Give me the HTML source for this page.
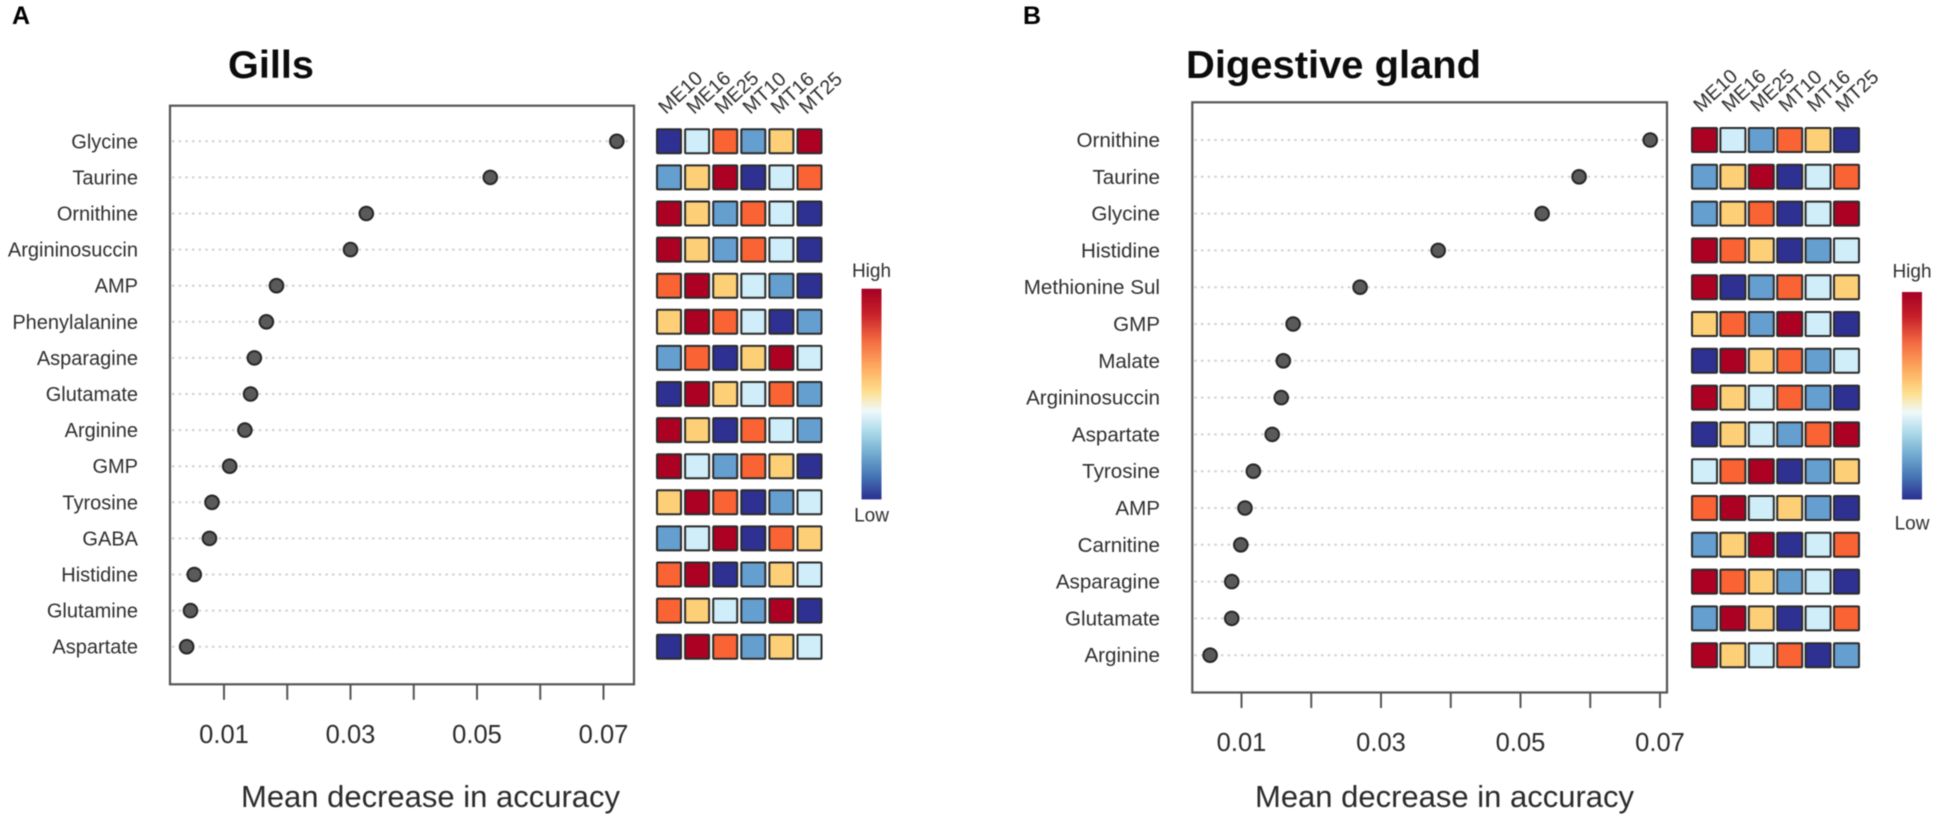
<!DOCTYPE html>
<html lang="en">
<head>
<meta charset="utf-8">
<title>Mean decrease in accuracy: Gills and Digestive gland</title>
<style>
html,body{margin:0;padding:0;background:#fff;width:1948px;height:821px;overflow:hidden}
svg{display:block;filter:blur(.5px)}
text{font-family:"Liberation Sans",sans-serif}
</style>
</head>
<body>
<svg id="figure" xmlns="http://www.w3.org/2000/svg" width="1948" height="821" viewBox="0 0 1948 821">
  <defs>
    <linearGradient id="heatRamp" x1="0" y1="0" x2="0" y2="1">
      <stop offset="0" stop-color="#a50026"/>
      <stop offset=".12" stop-color="#c8202a"/>
      <stop offset=".25" stop-color="#f46d43"/>
      <stop offset=".38" stop-color="#fdae61"/>
      <stop offset=".49" stop-color="#fee090"/>
      <stop offset=".58" stop-color="#eef9fb"/>
      <stop offset=".68" stop-color="#abd9e9"/>
      <stop offset=".78" stop-color="#74add1"/>
      <stop offset=".89" stop-color="#4575b4"/>
      <stop offset="1" stop-color="#2b2f92"/>
    </linearGradient>
  </defs>
  <text x="12" y="24" font-size="25" font-weight="700" fill="#000">A</text>
  <text x="1023" y="24" font-size="25" font-weight="700" fill="#000">B</text>
  <g id="panelA"></g>
  <g id="panelB"></g>
</svg>
<script>
// ---- shared chart data ----
const sampleColumns = ['ME10', 'ME16', 'ME25', 'MT10', 'MT16', 'MT25'];
const xTickValues = [0.01, 0.02, 0.03, 0.04, 0.05, 0.06, 0.07];
const xTickLabels = ['0.01', '0.03', '0.05', '0.07'];
const xAxisTitle = 'Mean decrease in accuracy';

// ---- Gills ----
const gillsMetabolites = ['Glycine', 'Taurine', 'Ornithine', 'Argininosuccin', 'AMP', 'Phenylalanine', 'Asparagine', 'Glutamate', 'Arginine', 'GMP', 'Tyrosine', 'GABA', 'Histidine', 'Glutamine', 'Aspartate'];
const gillsImportance = [0.0721, 0.0521, 0.0325, 0.03, 0.0183, 0.0167, 0.0148, 0.0142, 0.0133, 0.0109, 0.0081, 0.0077, 0.0053, 0.0047, 0.0041];
const gillsHeat = [
  [1, 3, 5, 2, 4, 6],
  [2, 4, 6, 1, 3, 5],
  [6, 4, 2, 5, 3, 1],
  [6, 4, 2, 5, 3, 1],
  [5, 6, 4, 3, 2, 1],
  [4, 6, 5, 3, 1, 2],
  [2, 5, 1, 4, 6, 3],
  [1, 6, 4, 3, 5, 2],
  [6, 4, 1, 5, 3, 2],
  [6, 3, 2, 5, 4, 1],
  [4, 6, 5, 1, 2, 3],
  [2, 3, 6, 1, 5, 4],
  [5, 6, 1, 2, 4, 3],
  [5, 4, 3, 2, 6, 1],
  [1, 6, 5, 2, 4, 3]
];

// ---- Digestive gland ----
const glandMetabolites = ['Ornithine', 'Taurine', 'Glycine', 'Histidine', 'Methionine Sul', 'GMP', 'Malate', 'Argininosuccin', 'Aspartate', 'Tyrosine', 'AMP', 'Carnitine', 'Asparagine', 'Glutamate', 'Arginine'];
const glandImportance = [0.0686, 0.0584, 0.0531, 0.0382, 0.027, 0.0174, 0.016, 0.0157, 0.0144, 0.0117, 0.0105, 0.0099, 0.0086, 0.0086, 0.0055];
const glandHeat = [
  [6, 3, 2, 5, 4, 1],
  [2, 4, 6, 1, 3, 5],
  [2, 4, 5, 1, 3, 6],
  [6, 5, 4, 1, 2, 3],
  [6, 1, 2, 5, 3, 4],
  [4, 5, 2, 6, 3, 1],
  [1, 6, 4, 5, 2, 3],
  [6, 4, 3, 5, 2, 1],
  [1, 4, 3, 2, 5, 6],
  [3, 5, 6, 1, 2, 4],
  [5, 6, 3, 4, 2, 1],
  [2, 4, 6, 1, 3, 5],
  [6, 5, 4, 2, 3, 1],
  [2, 6, 4, 1, 3, 5],
  [6, 4, 3, 5, 1, 2]
];

const levelColors = ['#2e3192', '#659fd0', '#cfeefa', '#fdd077', '#fa6334', '#ad0124'];
const NS = 'http://www.w3.org/2000/svg';

function make(parent, tag, attrs, content) {
  const el = document.createElementNS(NS, tag);
  for (const k in attrs) el.setAttribute(k, attrs[k]);
  if (content !== undefined) el.textContent = content;
  parent.appendChild(el);
  return el;
}

function drawPanel(root, layout, title, metabolites, importance, heat) {
  const xScale = v => layout.x01 + (v - 0.01) * (layout.x07 - layout.x01) / 0.06;
  const yScale = i => layout.yFirst + i * layout.rowStep;

  const titleEl = make(root, 'text', {x: layout.titleX, y: 78, 'font-size': 39, 'font-weight': 700, fill: '#0c0c0c', textLength: layout.titleW, lengthAdjust: 'spacingAndGlyphs'}, title);
  
  

  metabolites.forEach((name, i) => {
    const guide = make(root, 'line', {x1: layout.left + 2, x2: layout.right - 3, y1: yScale(i), y2: yScale(i), stroke: '#cfcfcf', 'stroke-width': 2, 'stroke-dasharray': '2.4 4.27'});
    
    

    const label = make(root, 'text', {x: layout.labelRight, y: yScale(i) + 7, 'text-anchor': 'end', 'font-size': layout.labelSize, fill: '#2e2e2e'}, name);
    
    
  });

  const frame = make(root, 'rect', {x: layout.left, y: layout.top, width: layout.right - layout.left, height: layout.bottom - layout.top, fill: 'none', stroke: '#555', 'stroke-width': 2.2});
  
  

  xTickValues.forEach(v => {
    const tick = make(root, 'line', {x1: xScale(v), x2: xScale(v), y1: layout.bottom, y2: layout.bottom + 15.5, stroke: '#555', 'stroke-width': 2});
    
    
  });

  xTickLabels.forEach(t => {
    const tickLabel = make(root, 'text', {x: xScale(parseFloat(t)), y: layout.bottom + 58.5, 'text-anchor': 'middle', 'font-size': 25.5, fill: '#2a2a2a'}, t);
    
    
  });

  const axisTitle = make(root, 'text', {x: layout.axisTitleX, y: 807, 'font-size': 31, fill: '#2a2a2a', textLength: layout.axisTitleW, lengthAdjust: 'spacingAndGlyphs'}, xAxisTitle);
  
  

  importance.forEach((v, i) => {
    const dot = make(root, 'circle', {cx: xScale(v), cy: yScale(i), r: 6.8, fill: '#5a5a5a', stroke: '#262626', 'stroke-width': 2});
    
    
  });

  sampleColumns.forEach((c, j) => {
    const px = layout.heatX + j * layout.colStep + 10;
    const colLabel = make(root, 'text', {x: px, y: layout.colLabelY, 'font-size': 19.8, fill: '#2e2e2e', transform: 'rotate(-43 ' + px + ' ' + layout.colLabelY + ')'}, c);
    
    
  });

  heat.forEach((row, i) => {
    row.forEach((level, j) => {
      const cell = make(root, 'rect', {x: layout.heatX + j * layout.colStep + 1, y: yScale(i) - 12, width: layout.cellW - 2, height: 24, fill: levelColors[level - 1], stroke: '#2b2b2b', 'stroke-width': 2, rx: 1});
      
      
    });
  });

  const high = make(root, 'text', {x: layout.barCx, y: layout.highY, 'text-anchor': 'middle', 'font-size': 19, fill: '#2e2e2e'}, 'High');
  
  

  const low = make(root, 'text', {x: layout.barCx, y: layout.lowY, 'text-anchor': 'middle', 'font-size': 19, fill: '#2e2e2e'}, 'Low');
  
  

  const bar = make(root, 'rect', {x: layout.barCx - 10, y: layout.barTop, width: 20, height: layout.barH, fill: 'url(#heatRamp)'});
  
  
}

drawPanel(document.getElementById('panelA'), {
  left: 170, right: 634, top: 105.7, bottom: 684.3,
  x01: 224, x07: 603.5, yFirst: 141.3, rowStep: 36.1,
  labelRight: 138, labelSize: 20,
  titleX: 228, titleW: 86, axisTitleX: 241, axisTitleW: 379,
  heatX: 656, colStep: 28.1, cellW: 26, colLabelY: 115,
  barCx: 871.5, barTop: 288.7, barH: 210.7, highY: 277, lowY: 521.5
}, 'Gills', gillsMetabolites, gillsImportance, gillsHeat);

drawPanel(document.getElementById('panelB'), {
  left: 1192.3, right: 1667, top: 102.3, bottom: 692.5,
  x01: 1241.5, x07: 1660, yFirst: 140, rowStep: 36.8,
  labelRight: 1160, labelSize: 20.6,
  titleX: 1186, titleW: 295, axisTitleX: 1255, axisTitleW: 379,
  heatX: 1691, colStep: 28.4, cellW: 27, colLabelY: 113,
  barCx: 1912, barTop: 292, barH: 207.5, highY: 277.7, lowY: 529.5
}, 'Digestive gland', glandMetabolites, glandImportance, glandHeat);
</script>
</body>
</html>
